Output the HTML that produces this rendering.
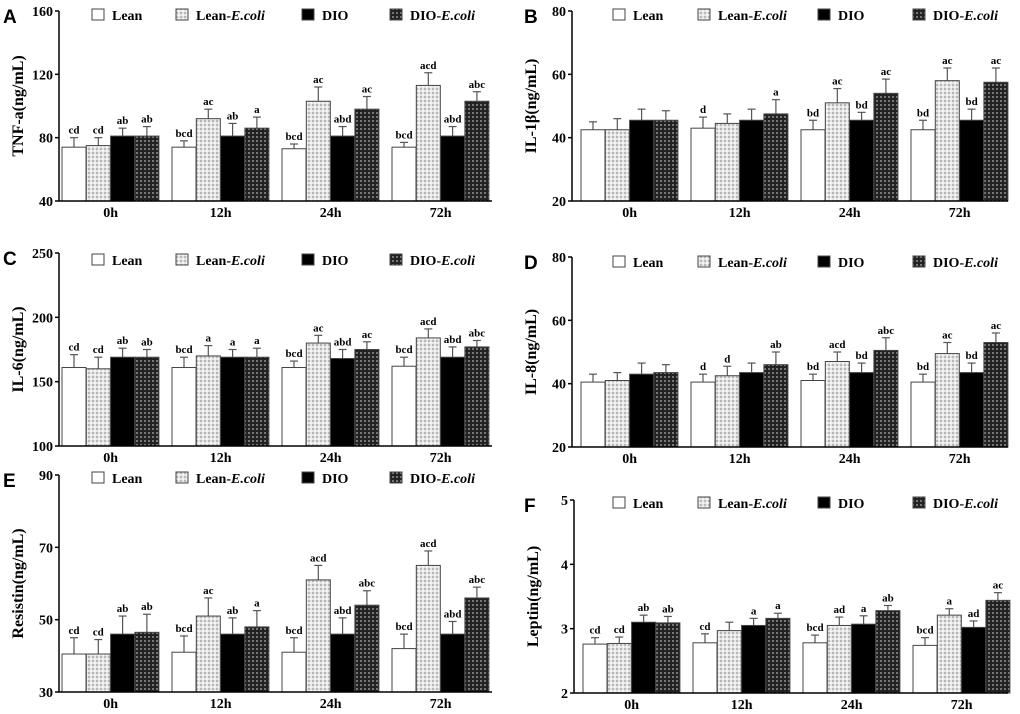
<!DOCTYPE html>
<html><head><meta charset="utf-8"><style>
body{margin:0;background:#fff}
svg{display:block}
text{font-family:"Liberation Serif",serif;font-weight:bold;fill:#000}
.lt{font-family:"Liberation Sans",sans-serif;font-size:19px}
</style></head><body>
<svg id="c" width="1020" height="714">
<defs>
<pattern id="pl" width="4" height="4" patternUnits="userSpaceOnUse"><rect width="4" height="4" fill="#e4e4e4"/><rect width="2" height="2" fill="#b8b8b8"/><rect x="2" y="2" width="2" height="2" fill="#f4f4f4"/></pattern>
<pattern id="pd" width="4" height="4" patternUnits="userSpaceOnUse"><rect width="4" height="4" fill="#222"/><rect width="2" height="2" fill="#777"/></pattern>
</defs>
</svg>
<script>
const categories=["0h","12h","24h","72h"];
const seriesNames=["Lean","Lean-E.coli","DIO","DIO-E.coli"];
const titles=["TNF-a(ng/mL)","IL-1β(ng/mL)","IL-6(ng/mL)","IL-8(ng/mL)","Resistin(ng/mL)","Leptin(ng/mL)"];
const panelLetters=["A","B","C","D","E","F"];
const ticksA=[40,80,120,160],ticksB=[20,40,60,80],ticksC=[100,150,200,250],ticksD=[20,40,60,80],ticksE=[30,50,70,90],ticksF=[2,3,4,5];
const valA=[[74,74,73,74],[75,92,103,113],[81,81,81,81],[81,86,98,103]];
const errA=[[6,4,3,3],[5,6,9,8],[5,8,6,6],[6,7,8,6]];
const letA=[["cd","bcd","bcd","bcd"],["cd","ac","ac","acd"],["ab","ab","abd","abd"],["ab","a","ac","abc"]];
const valB=[[42.5,43,42.5,42.5],[42.5,44.5,51,58],[45.5,45.5,45.5,45.5],[45.5,47.5,54,57.5]];
const errB=[[2.5,3.5,3,3],[3.5,3,4.5,4],[3.5,3.5,2.5,3.5],[3,4.5,4.5,4.5]];
const letB=[["","d","bd","bd"],["","","ac","ac"],["","","bd","bd"],["","a","ac","ac"]];
const valC=[[161,161,161,162],[160,170,180,184],[169,169,168,169],[169,169,175,177]];
const errC=[[10,8,5,7],[9,8,6,7],[7,6,7,8],[6,7,6,5]];
const letC=[["cd","bcd","bcd","bcd"],["cd","a","ac","acd"],["ab","a","abd","abd"],["ab","a","ac","abc"]];
const valD=[[40.5,40.5,41,40.5],[41,42.5,47,49.5],[43,43.5,43.5,43.5],[43.5,46,50.5,53]];
const errD=[[2.5,2.5,2,2.5],[2.5,3,3,3.5],[3.5,3,3,3],[2.5,4,4,3]];
const letD=[["","d","bd","bd"],["","d","acd","ac"],["","","bd","bd"],["","ab","abc","ac"]];
const valE=[[40.5,41,41,42],[40.5,51,61,65],[46,46,46,46],[46.5,48,54,56]];
const errE=[[4.5,4.5,4,4],[4,5,4,4],[5,4.5,4.5,3.5],[5,4.5,4,3]];
const letE=[["cd","bcd","bcd","bcd"],["cd","ac","acd","acd"],["ab","ab","abd","abd"],["ab","a","abc","abc"]];
const valF=[[2.76,2.78,2.78,2.74],[2.77,2.97,3.05,3.21],[3.1,3.05,3.07,3.02],[3.09,3.16,3.28,3.44]];
const errF=[[0.1,0.14,0.12,0.12],[0.1,0.13,0.13,0.1],[0.11,0.11,0.13,0.1],[0.1,0.08,0.08,0.12]];
const letF=[["cd","cd","bcd","bcd"],["cd","","ad","a"],["ab","a","a","ad"],["ab","a","ab","ac"]];
const allTicks=[ticksA,ticksB,ticksC,ticksD,ticksE,ticksF];
const allVals=[valA,valB,valC,valD,valE,valF];
const allErrs=[errA,errB,errC,errD,errE,errF];
const allLets=[letA,letB,letC,letD,letE,letF];
const geo=[{ax:59,top:11,bot:201,end:492,leg:15},{ax:572,top:11,bot:201,end:1008,leg:15},
{ax:59,top:253,bot:446,end:492,leg:260},{ax:572,top:257,bot:447,end:1008,leg:262},
{ax:59,top:475,bot:692,end:492,leg:478},{ax:574,top:500,bot:693,end:1008,leg:503}];
const fills=["#fff","url(#pl)","#000","url(#pd)"];
const svg=document.getElementById('c');
const NS="http://www.w3.org/2000/svg";
function mk(t,a,p){const e=document.createElementNS(NS,t);for(const k in a)e.setAttribute(k,a[k]);(p||svg).appendChild(e);return e;}
for(let p=0;p<6;p++){
 const g=geo[p],ticks=allTicks[p],vals=allVals[p],errs=allErrs[p],lets=allLets[p];
 const grp=mk('g',{});
 
 
 const lo=ticks[0],hi=ticks[ticks.length-1];
 const y=v=>g.bot-(v-lo)/(hi-lo)*(g.bot-g.top);
 const off=p%2==0?3:9;
 const xb=(c,s)=>g.ax+off+c*110+s*24.3;
 const L=mk('text',{x:p%2==0?3:524,y:g.top+12,class:'lt'},grp);L.textContent=panelLetters[p];
 
 
 const cy=(g.top+g.bot)/2;
 const T=mk('text',{x:0,y:0,'font-size':16,'text-anchor':'middle',transform:`translate(${g.ax-36},${cy}) rotate(-90)`},grp);T.textContent=titles[p];
 
 
 for(const t of ticks){
  mk('line',{x1:g.ax-4,x2:g.ax,y1:y(t),y2:y(t),stroke:'#000','stroke-width':1.5},grp);
  const tt=mk('text',{x:g.ax-6,y:y(t)+5,'font-size':14,'text-anchor':'end'},grp);tt.textContent=t;
  
  
 }
 for(let c=0;c<4;c++)for(let s=0;s<4;s++){
  const v=vals[s][c],e=errs[s][c],x=xb(c,s);
  const cx=x+12;
  mk('line',{x1:cx,x2:cx,y1:y(v),y2:y(v+e),stroke:'#555','stroke-width':1.2},grp);
  mk('line',{x1:cx-4,x2:cx+4,y1:y(v+e),y2:y(v+e),stroke:'#555','stroke-width':1.2},grp);
  const r=mk('rect',{x:x,y:y(v),width:24,height:g.bot-y(v),fill:fills[s],stroke:'#444','stroke-width':1},grp);
  
  
  if(lets[s][c]){const lt=mk('text',{x:cx,y:y(v+e)-4,'font-size':11,'text-anchor':'middle'},grp);lt.textContent=lets[s][c];
   
   }
 }
 mk('line',{x1:g.ax,x2:g.ax,y1:g.top,y2:g.bot,stroke:'#000','stroke-width':1.5},grp);
 mk('line',{x1:g.ax,x2:g.end,y1:g.bot,y2:g.bot,stroke:'#000','stroke-width':1.5},grp);
 for(let c=0;c<4;c++){
  const xt=mk('text',{x:xb(c,2),y:g.bot+16,'font-size':14,'text-anchor':'middle'},grp);xt.textContent=categories[c];
  
  
 }
 const lx=p%2==0?[92,176,302,390]:[613,698,818,913];
 for(let s=0;s<4;s++){
  const lg=mk('g',{},grp);
  
  
  mk('rect',{x:lx[s],y:g.leg-6,width:12,height:11,fill:fills[s],stroke:'#444'},lg);
  const t=mk('text',{x:lx[s]+20,y:g.leg+5,'font-size':14},lg);
  if(s%2==1){t.textContent=seriesNames[s].split('-')[0]+'-';const i=mk('tspan',{'font-style':'italic'},t);i.textContent='E.coli';}
  else t.textContent=seriesNames[s];
 }
}
</script>
</body></html>
